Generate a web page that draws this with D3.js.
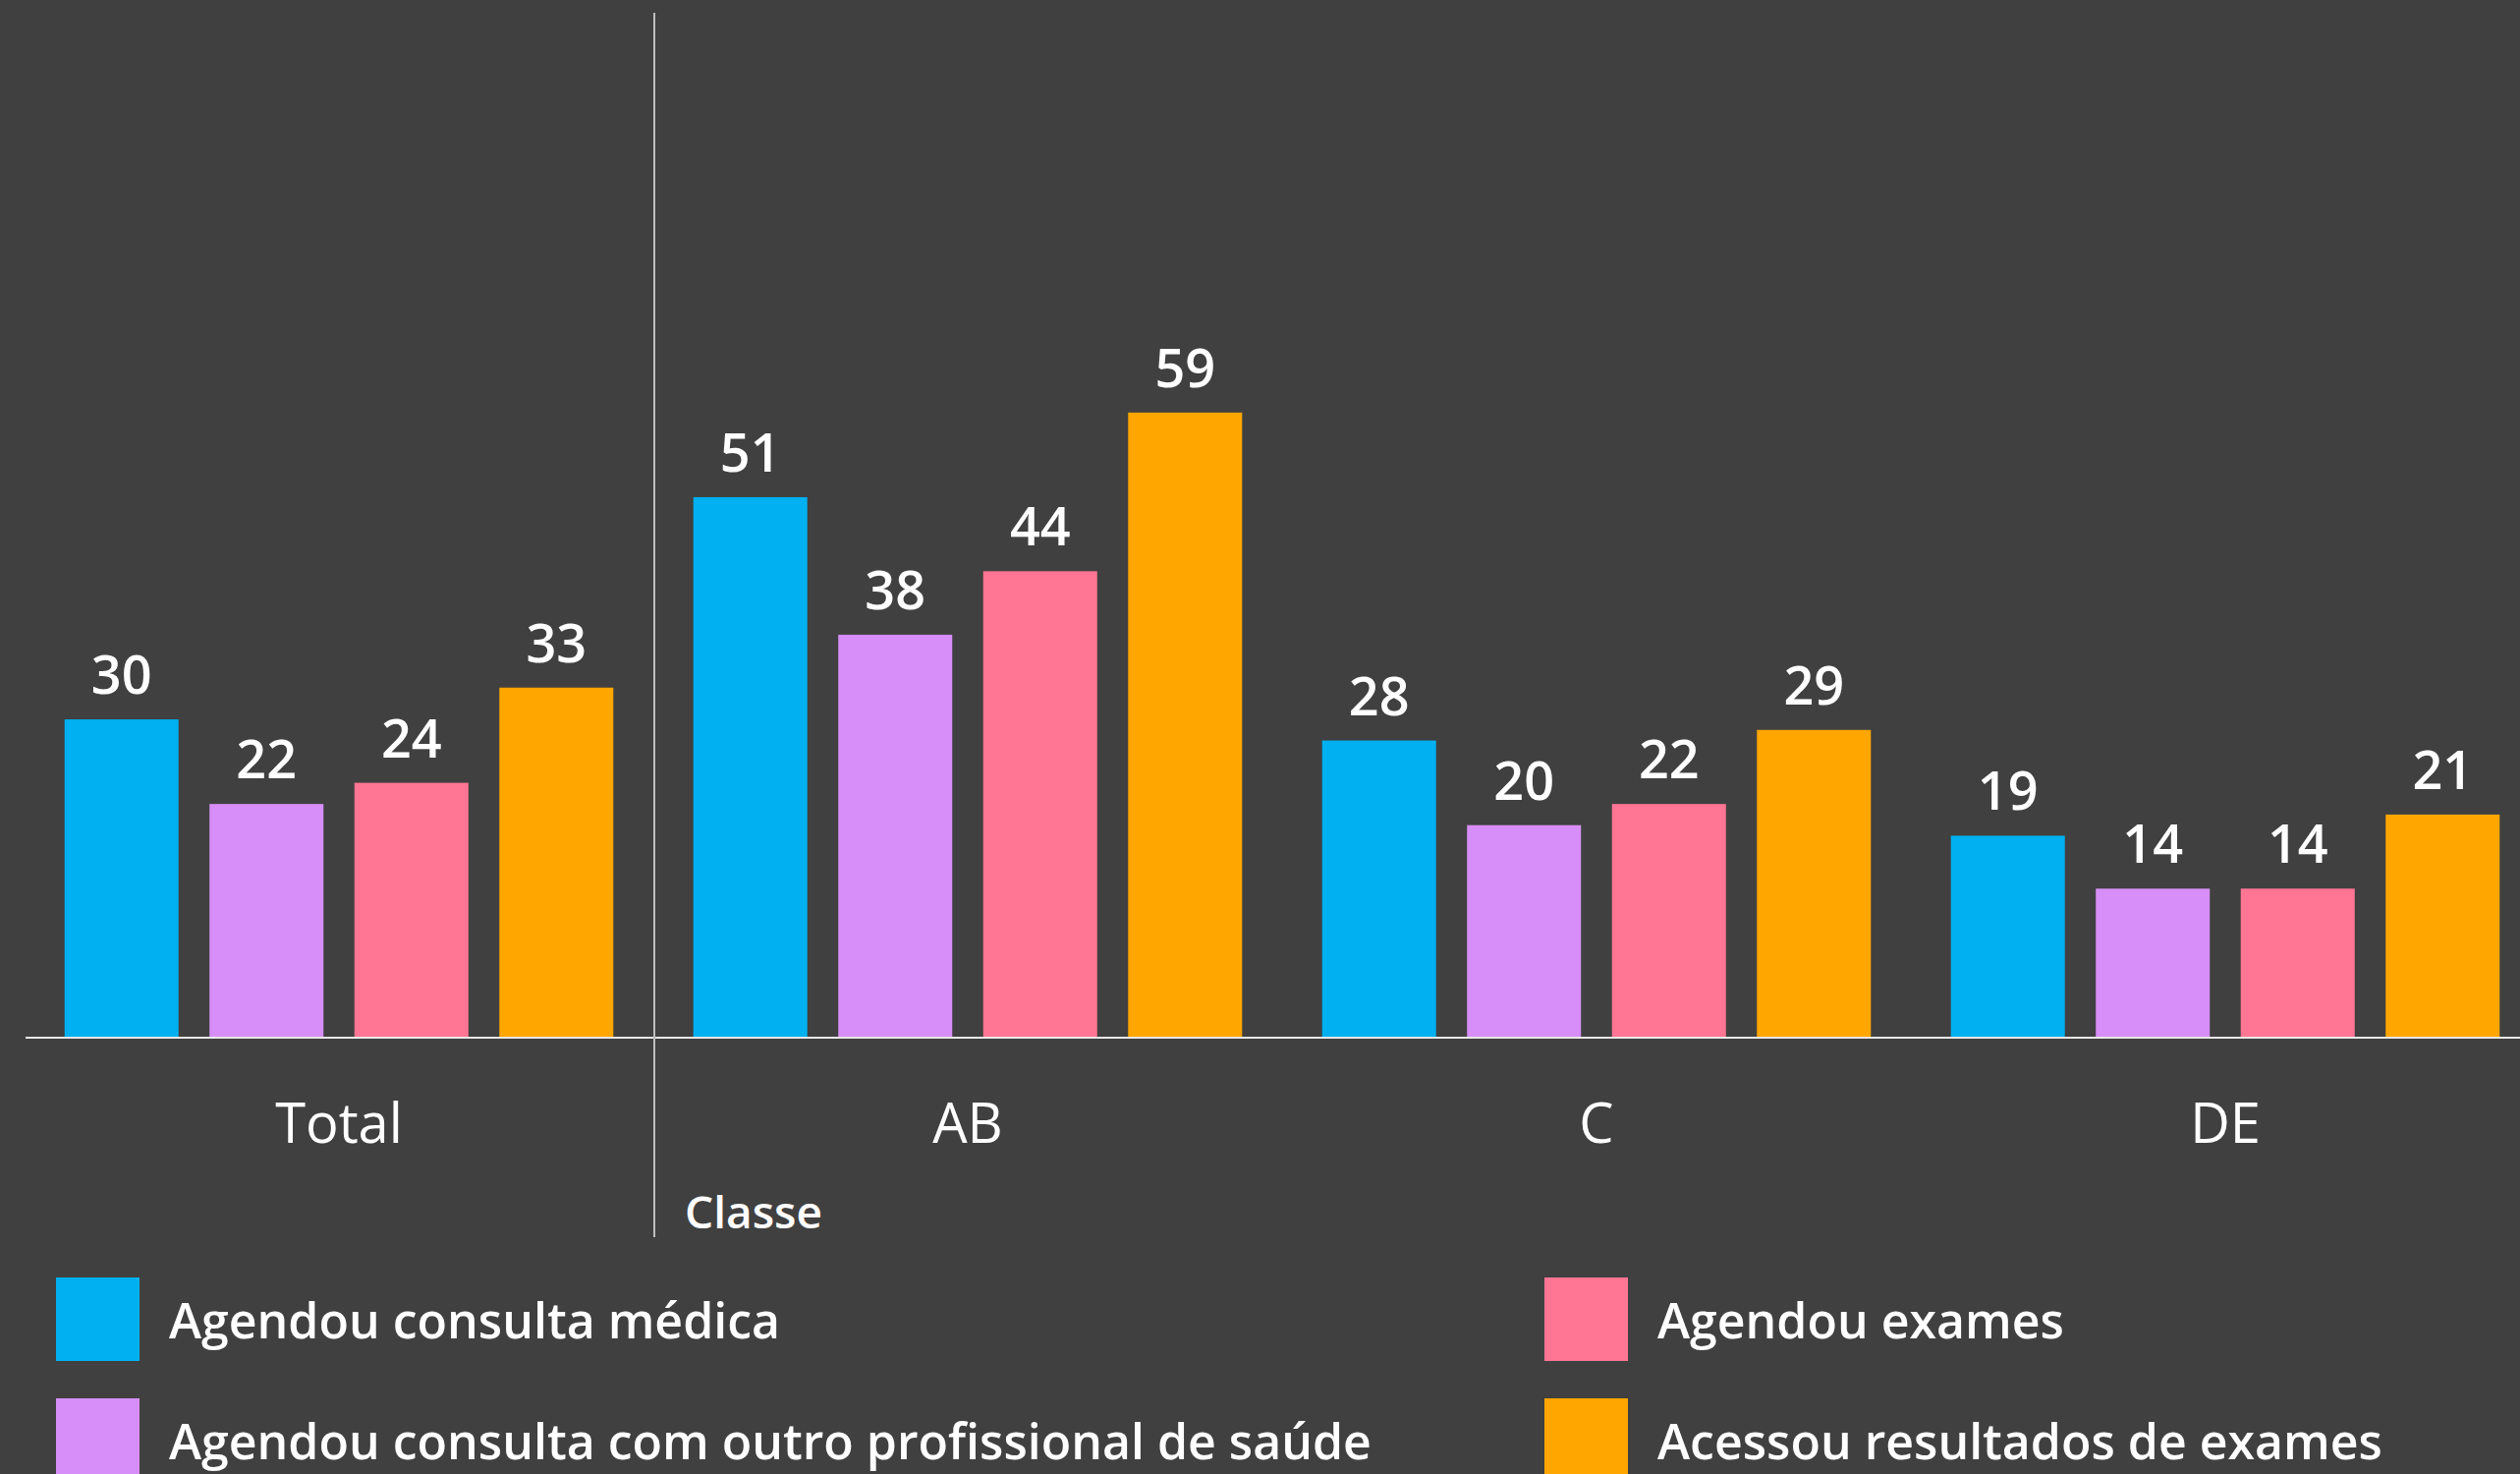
<!DOCTYPE html>
<html>
<head>
<meta charset="utf-8">
<script src="https://cdn.jsdelivr.net/npm/d3@7"></script>
<style>
  html, body { margin: 0; padding: 0; background: #404040; }
  svg { display: block; }
</style>
</head>
<body>
<div id="chart"></div>
<script>
(function () {
  'use strict';

  // data
  var categories = ['Total', 'AB', 'C', 'DE'];
  var seriesNames = [
    'Agendou consulta médica',
    'Agendou consulta com outro profissional de saúde',
    'Agendou exames',
    'Acessou resultados de exames'
  ];
  var consultaMedica = [30, 51, 28, 19];
  var outroProfissional = [22, 38, 20, 14];
  var agendouExames = [24, 44, 22, 14];
  var resultadosExames = [33, 59, 29, 21];
  var seriesColors = ['#00b0f0', '#d78ef8', '#ff7593', '#ffa600'];
  var groupTitle = 'Classe';

  var values = [consultaMedica, outroProfissional, agendouExames, resultadosExames];

  var width = 2565, height = 1500;
  var font = '"Open Sans", "Noto Sans", sans-serif';

  var svg = d3.select('#chart').append('svg')
    .attr('width', width)
    .attr('height', height);

  svg.append('rect')
    .attr('width', width)
    .attr('height', height)
    .attr('fill', '#404040');

  var x0 = d3.scaleBand()
    .domain(categories)
    .range([25, 25 + 640 * categories.length])
    .padding(0);

  var x1 = d3.scaleBand()
    .domain(d3.range(seriesNames.length))
    .range([0, x0.bandwidth()])
    .paddingInner(0.2136)
    .paddingOuter(0.276);

  var y = d3.scaleLinear()
    .domain([0, 98])
    .range([1055, 0]);

  var rows = [];
  categories.forEach(function (cat, ci) {
    values.forEach(function (s, si) {
      rows.push({ cat: cat, si: si, v: s[ci] });
    });
  });

  var bars = svg.append('g');

  bars.selectAll('rect')
    .data(rows)
    .enter().append('rect')
    .attr('x', function (d) { return x0(d.cat) + x1(d.si); })
    .attr('y', function (d) { return y(d.v); })
    .attr('width', x1.bandwidth())
    .attr('height', function (d) { return y(0) - y(d.v); })
    .attr('fill', function (d) { return seriesColors[d.si]; });

  bars.selectAll('text')
    .data(rows)
    .enter().append('text')
    .attr('x', function (d) { return x0(d.cat) + x1(d.si) + x1.bandwidth() / 2; })
    .attr('y', function (d) { return y(d.v) - 26; })
    .attr('text-anchor', 'middle')
    .attr('font-family', font)
    .attr('font-weight', 600)
    .attr('font-size', 54)
    .attr('fill', '#ffffff')
    .text(function (d) { return d.v; });

  // category axis
  var axis = svg.append('g')
    .attr('transform', 'translate(0,' + y(0) + ')')
    .call(d3.axisBottom(x0).tickSize(0).tickPadding(68));

  axis.select('.domain').remove();
  axis.selectAll('text')
    .attr('font-family', font)
    .attr('font-size', 56)
    .attr('fill', '#ffffff');

  svg.append('line')
    .attr('x1', 26)
    .attr('x2', width)
    .attr('y1', y(0) + 1)
    .attr('y2', y(0) + 1)
    .style('stroke', '#e8e8e8')
    .style('stroke-width', 2);

  // separator between Total and the class groups
  var sepX = x0('AB') + 1;
  svg.append('line')
    .attr('x1', sepX)
    .attr('x2', sepX)
    .attr('y1', 13)
    .attr('y2', 1259)
    .style('stroke', '#bfbfbf')
    .style('stroke-width', 2);

  svg.append('text')
    .attr('x', sepX + 31)
    .attr('y', 1250)
    .attr('font-family', font)
    .attr('font-weight', 600)
    .attr('font-size', 46)
    .attr('fill', '#ffffff')
    .text(groupTitle);

  // legend, two columns
  var legendX = [57, 1572];
  var legendY = [1300, 1423];
  var legend = svg.append('g');
  var items = legend.selectAll('g')
    .data(seriesNames)
    .enter().append('g')
    .attr('transform', function (d, i) {
      var col = i < 2 ? 0 : 1;
      var row = i % 2;
      return 'translate(' + legendX[col] + ',' + legendY[row] + ')';
    });

  items.append('rect')
    .attr('width', 85)
    .attr('height', 85)
    .attr('fill', function (d, i) { return seriesColors[i]; });

  items.append('text')
    .attr('x', 115)
    .attr('y', 62)
    .attr('font-family', font)
    .attr('font-weight', 600)
    .attr('font-size', 50)
    .attr('fill', '#ffffff')
    .text(function (d) { return d; });
})();
</script>
</body>
</html>
